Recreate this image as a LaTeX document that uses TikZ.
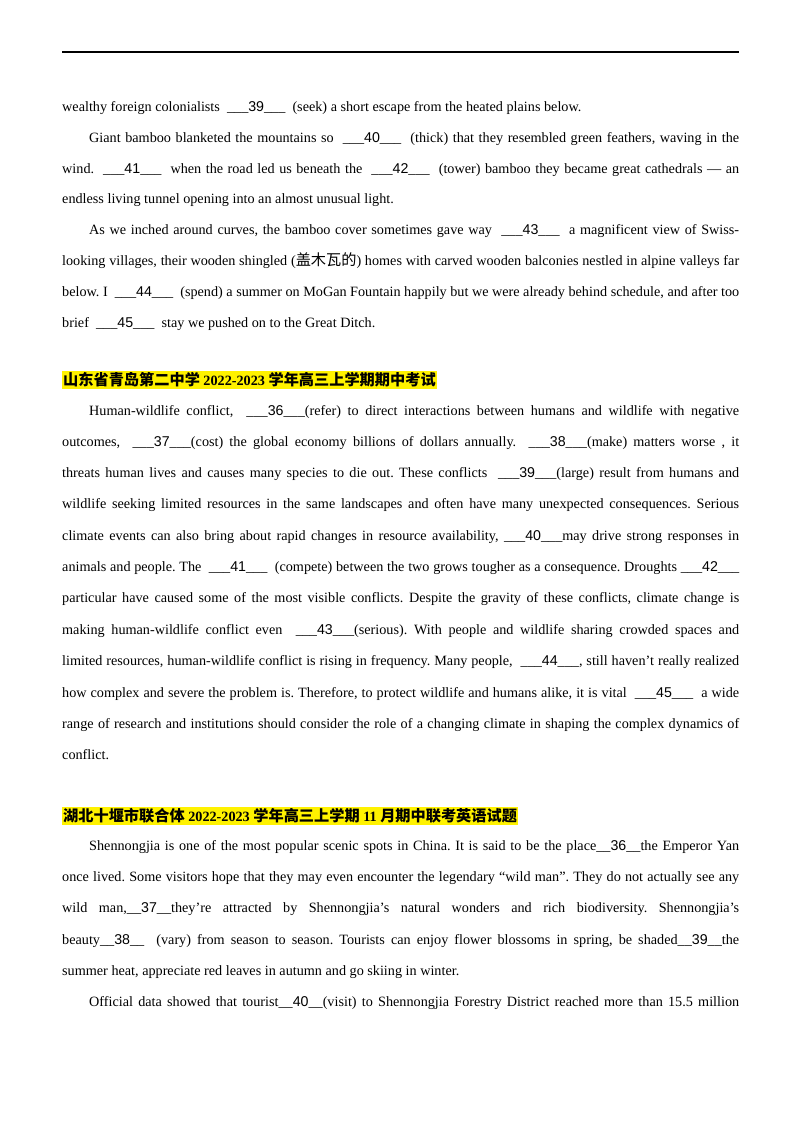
\documentclass[tikz,border=0pt]{standalone}
\usepackage{fontspec}
\setmainfont{Liberation Serif}
\newfontfamily\numf{Liberation Sans}
\newfontfamily\cjk[Scale=1.07]{Noto Sans CJK SC}
\frenchspacing
\newcommand{\bl}[1]{\_\_\_{\numf #1}\_\_\_}
\newcommand{\bs}[1]{\_\_{\numf #1}\_\_}
\newcommand{\jl}[3]{\node[txt] (#1) at (62,1131-#2) {\makebox[677pt][s]{#3}};}
\newcommand{\il}[3]{\node[txt] (#1) at (89,1131-#2) {\makebox[650pt][s]{#3}};}
\newcommand{\rl}[3]{\node[txt] (#1) at (62,1131-#2) {#3};}
\newcommand{\irl}[3]{\node[txt] (#1) at (89,1131-#2) {#3};}
\begin{document}
\begin{tikzpicture}[x=1pt,y=1pt,
  txt/.style={anchor=base west,inner sep=0pt,font=\fontsize{14.2}{16}\selectfont},
  head/.style={anchor=base west,inner xsep=1pt,inner ysep=1.5pt,fill=yellow,font=\fontsize{14.2}{16}\selectfont\bfseries}]
\useasboundingbox[fill=white] (0,0) rectangle (800,1132);
\draw[line width=1.6pt] (62,1132-52) -- (739,1132-52);
\rl{a1}{111}{wealthy foreign colonialists \ \bl{39} \ (seek) a short escape from the heated plains below.}
\il{a2}{142}{Giant bamboo blanketed the mountains so \ \bl{40} \ (thick) that they resembled green feathers, waving in the}
\jl{a3}{173}{wind. \ \bl{41} \ when the road led us beneath the \ \bl{42} \ (tower) bamboo they became great cathedrals — an}
\rl{a4}{203}{endless living tunnel opening into an almost unusual light.}
\il{a5}{234}{As we inched around curves, the bamboo cover sometimes gave way \ \bl{43} \ a magnificent view of Swiss-}
\jl{a6}{265}{looking villages, their wooden shingled ({\cjk 盖木瓦的}) homes with carved wooden balconies nestled in alpine valleys far}
\jl{a7}{296}{below. I \ \bl{44} \ (spend) a summer on MoGan Fountain happily but we were already behind schedule, and after too}
\rl{a8}{327}{brief \ \bl{45} \ stay we pushed on to the Great Ditch.}
\node[head] (h1) at (62,1131-385) {{\cjk\bfseries 山东省青岛第二中学} 2022-2023 {\cjk\bfseries 学年高三上学期期中考试}};
\il{b1}{415}{Human-wildlife conflict, \ \bl{36}(refer) to direct interactions between humans and wildlife with negative}
\jl{b2}{446}{outcomes, \ \bl{37}(cost) the global economy billions of dollars annually. \ \bl{38}(make) matters worse , it}
\jl{b3}{477}{threats human lives and causes many species to die out. These conflicts \ \bl{39}(large) result from humans and}
\jl{b4}{508}{wildlife seeking limited resources in the same landscapes and often have many unexpected consequences. Serious}
\jl{b5}{540}{climate events can also bring about rapid changes in resource availability, \bl{40}may drive strong responses in}
\jl{b6}{571}{animals and people. The \ \bl{41} \ (compete) between the two grows tougher as a consequence. Droughts \bl{42}}
\jl{b7}{602}{particular have caused some of the most visible conflicts. Despite the gravity of these conflicts, climate change is}
\jl{b8}{634}{making human-wildlife conflict even \ \bl{43}(serious). With people and wildlife sharing crowded spaces and}
\jl{b9}{665}{limited resources, human-wildlife conflict is rising in frequency. Many people, \ \bl{44}, still haven’t really realized}
\jl{b10}{697}{how complex and severe the problem is. Therefore, to protect wildlife and humans alike, it is vital \ \bl{45} \ a wide}
\jl{b11}{728}{range of research and institutions should consider the role of a changing climate in shaping the complex dynamics of}
\rl{b12}{759}{conflict.}
\node[head] (h2) at (62,1131-821) {{\cjk\bfseries 湖北十堰市联合体} 2022-2023 {\cjk\bfseries 学年高三上学期} 11 {\cjk\bfseries 月期中联考英语试题}};
\il{c1}{850}{Shennongjia is one of the most popular scenic spots in China. It is said to be the place\bs{36}the Emperor Yan}
\jl{c2}{881}{once lived. Some visitors hope that they may even encounter the legendary “wild man”. They do not actually see any}
\jl{c3}{912}{wild man,\bs{37}they’re attracted by Shennongjia’s natural wonders and rich biodiversity. Shennongjia’s}
\jl{c4}{944}{beauty\bs{38} \ (vary) from season to season. Tourists can enjoy flower blossoms in spring, be shaded\bs{39}the}
\rl{c5}{975}{summer heat, appreciate red leaves in autumn and go skiing in winter.}
\il{c6}{1006}{Official data showed that tourist\bs{40}(visit) to Shennongjia Forestry District reached more than 15.5 million}
\end{tikzpicture}
\end{document}
